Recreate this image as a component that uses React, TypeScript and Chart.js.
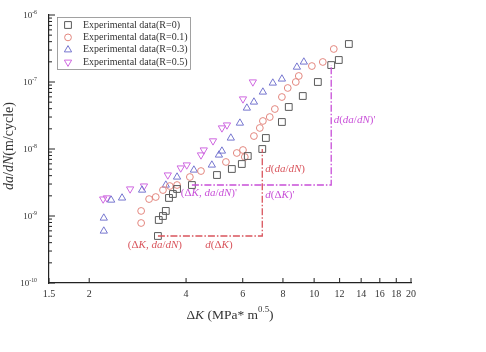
import React, { useEffect, useRef } from 'react';
import { Chart, registerables } from 'chart.js';
Chart.register(...registerables);

// ---- axis ticks ----
const X_TICKS = [1.5, 2, 4, 6, 8, 10, 12, 14, 16, 18, 20];
const X_TICK_LABELS = ['1.5', '2', '4', '6', '8', '10', '12', '14', '16', '18', '20'];
const Y_DECADES = [-10, -9, -8, -7, -6];

// ---- series: R = 0 (squares) ----
const r0X = [3.27, 3.29, 3.39, 3.46, 3.54, 3.64, 3.75, 4.17, 4.99, 5.55, 5.96, 6.22, 6.9, 7.08, 7.94, 8.34, 9.22, 10.27, 11.3, 11.93, 12.82];
const r0Y = [5.03e-10, 8.72e-10, 1.0e-9, 1.19e-9, 1.86e-9, 2.13e-9, 2.53e-9, 2.9e-9, 4.09e-9, 5.03e-9, 5.97e-9, 7.86e-9, 1.0e-8, 1.46e-8, 2.53e-8, 4.24e-8, 6.18e-8, 1.0e-7, 1.79e-7, 2.13e-7, 3.69e-7];

// ---- series: R = 0.1 (circles) ----
const r01X = [2.9, 2.9, 3.07, 3.22, 3.39, 3.56, 3.75, 4.11, 4.45, 5.32, 5.75, 6.01, 6.09, 6.5, 6.78, 6.93, 7.28, 7.55, 7.94, 8.28, 8.77, 8.96, 9.84, 10.64, 11.51];
const r01Y = [1.19e-9, 7.86e-10, 1.79e-9, 1.92e-9, 2.44e-9, 2.8e-9, 2.9e-9, 3.82e-9, 4.69e-9, 6.4e-9, 8.72e-9, 9.66e-9, 7.6e-9, 1.56e-8, 2.06e-8, 2.62e-8, 3.0e-8, 3.95e-8, 5.97e-8, 8.14e-8, 1.0e-7, 1.23e-7, 1.73e-7, 1.99e-7, 3.11e-7];

// ---- series: R = 0.3 (triangles) ----
const r03X = [2.22, 2.22, 2.34, 2.53, 2.92, 3.46, 3.75, 4.23, 4.81, 5.06, 5.17, 5.51, 5.88, 6.18, 6.5, 6.93, 7.44, 7.94, 8.84, 9.29];
const r03Y = [9.33e-10, 5.97e-10, 1.73e-9, 1.86e-9, 2.44e-9, 2.9e-9, 3.82e-9, 4.86e-9, 5.77e-9, 8.14e-9, 9.33e-9, 1.46e-8, 2.44e-8, 4.09e-8, 5.03e-8, 7.09e-8, 9.66e-8, 1.11e-7, 1.67e-7, 1.99e-7];

// ---- series: R = 0.5 (inverted triangles) ----
const r05X = [2.21, 2.27, 2.68, 2.96, 3.51, 3.85, 4.02, 4.45, 4.54, 4.85, 5.17, 5.36, 6.01, 6.45];
const r05Y = [1.79e-9, 1.86e-9, 2.53e-9, 2.8e-9, 4.09e-9, 5.2e-9, 5.77e-9, 8.14e-9, 9.66e-9, 1.32e-8, 2.06e-8, 2.28e-8, 5.58e-8, 1.0e-7];

const SERIES_LABELS = ['Experimental data(R=0)', 'Experimental data(R=0.1)', 'Experimental data(R=0.3)', 'Experimental data(R=0.5)'];

// ---- annotation paths ----
const redPathX = [3.27, 6.9, 6.9];
const redPathY = [5.03e-10, 5.03e-10, 1.0e-8];
const magPathX = [4.17, 11.3, 11.3];
const magPathY = [2.9e-9, 2.9e-9, 1.79e-7];

const RED = '#d9545c';
const MAG = '#c84fd8';
const C_SQ = '#5a5a5a';
const C_CI = '#e3877f';
const C_TR = '#7676cf';
const C_IT = '#cf68e0';

type Seg = [string, number, number?];
const annoTexts: { segs: Seg[]; x: number; y: number; align: string; color: string }[] = [
  { segs: [['(', 0], ['\u0394', 0], ['K', 1], [', ', 0], ['da', 1], ['/', 0], ['dN', 1], [')', 0]], x: 3.2, y: 3.69e-10, align: 'center', color: RED },
  { segs: [['d', 1], ['(', 0], ['\u0394', 0], ['K', 1], [')', 0]], x: 5.06, y: 3.69e-10, align: 'center', color: RED },
  { segs: [['d', 1], ['(', 0], ['da', 1], ['/', 0], ['dN', 1], [')', 0]], x: 7.05, y: 5.03e-9, align: 'left', color: RED },
  { segs: [['(', 0], ['\u0394', 0], ['K', 1], [', ', 0], ['da', 1], ['/', 0], ['dN', 1], [")'", 0]], x: 4.71, y: 2.2e-9, align: 'center', color: MAG },
  { segs: [['d', 1], ['(', 0], ['\u0394', 0], ['K', 1], [")'", 0]], x: 7.05, y: 2.06e-9, align: 'left', color: MAG },
  { segs: [['d', 1], ['(', 0], ['da', 1], ['/', 0], ['dN', 1], [")'", 0]], x: 11.5, y: 2.71e-8, align: 'left', color: MAG },
];

const FONT = "'Liberation Serif', 'Times New Roman', serif";

function drawRich(ctx: CanvasRenderingContext2D, segs: Seg[], x: number, y: number, align: string, size: number, color: string) {
  let w = 0;
  const parts = segs.map(([t, it, sup]) => {
    const s = sup ? size * 0.65 : size;
    const font = `${it ? 'italic ' : ''}${s}px ${FONT}`;
    ctx.font = font;
    const mw = ctx.measureText(t).width;
    w += mw;
    return { t, font, mw, sup };
  });
  let cx = align === 'center' ? x - w / 2 : align === 'right' ? x - w : x;
  ctx.fillStyle = color;
  ctx.textBaseline = 'middle';
  ctx.textAlign = 'left';
  parts.forEach((p) => {
    ctx.font = p.font;
    ctx.fillText(p.t, cx, p.sup ? y - size * 0.38 : y);
    cx += p.mw;
  });
}

function marker(ctx: CanvasRenderingContext2D, kind: string, x: number, y: number, color: string) {
  ctx.save();
  ctx.strokeStyle = color;
  ctx.lineWidth = 1;
  ctx.beginPath();
  if (kind === 'rect') {
    const s = 4.8 * Math.SQRT1_2;
    ctx.rect(x - s, y - s, 2 * s, 2 * s);
  } else if (kind === 'circle') {
    ctx.arc(x, y, 3.4, 0, Math.PI * 2);
  } else {
    const r = 4.2;
    let rad = kind === 'tri' ? 0 : Math.PI;
    ctx.moveTo(x + Math.sin(rad) * r, y - Math.cos(rad) * r);
    rad += (2 * Math.PI) / 3;
    ctx.lineTo(x + Math.sin(rad) * r, y - Math.cos(rad) * r);
    rad += (2 * Math.PI) / 3;
    ctx.lineTo(x + Math.sin(rad) * r, y - Math.cos(rad) * r);
    ctx.closePath();
  }
  ctx.stroke();
  ctx.restore();
}

const decor = {
  id: 'decor',
  afterDraw(chart: any) {
    const ctx: CanvasRenderingContext2D = chart.ctx;
    const xs = chart.scales.x;
    const ys = chart.scales.y;
    const { left, right, top, bottom } = chart.chartArea;
    ctx.save();
    ctx.strokeStyle = '#222';
    ctx.lineWidth = 1;
    // x ticks (inward) + labels
    X_TICKS.forEach((v, i) => {
      const px = xs.getPixelForValue(v);
      ctx.beginPath();
      ctx.moveTo(px, bottom);
      ctx.lineTo(px, bottom - 5);
      ctx.stroke();
      drawRich(ctx, [[X_TICK_LABELS[i], 0]], px, bottom + 11.5, 'center', 10, '#333');
    });
    // y ticks
    Y_DECADES.forEach((e, i) => {
      const py = ys.getPixelForValue(Math.pow(10, e));
      ctx.strokeStyle = '#222';
      ctx.beginPath();
      ctx.moveTo(left, py);
      ctx.lineTo(left + 6, py);
      ctx.stroke();
      drawRich(ctx, [['10', 0], [String(e), 0, 1]], left - 12, py + 1, 'right', 9, '#333');
      if (i < Y_DECADES.length - 1) {
        for (let m = 2; m <= 9; m++) {
          const pm = ys.getPixelForValue(m * Math.pow(10, e));
          ctx.beginPath();
          ctx.moveTo(left, pm);
          ctx.lineTo(left + 3, pm);
          ctx.stroke();
        }
      }
    });
    // axis titles
    drawRich(ctx, [['\u0394', 0], ['K', 1], [' (MPa* m', 0], ['0.5', 0, 1], [')', 0]], (left + right) / 2, bottom + 32, 'center', 13.5, '#333');
    ctx.save();
    ctx.translate(left - 40, (top + bottom) / 2 - 3);
    ctx.rotate(-Math.PI / 2);
    drawRich(ctx, [['da', 1], ['/', 0], ['dN', 1], ['(m/cycle)', 0]], 0, 0, 'center', 14, '#333');
    ctx.restore();
    // annotation texts
    annoTexts.forEach((a) => {
      drawRich(ctx, a.segs, xs.getPixelForValue(a.x), ys.getPixelForValue(a.y), a.align, 11, a.color);
    });
    // legend
    const lx = left + 8, ly = top + 2, lw = 133, lh = 52;
    ctx.fillStyle = '#fff';
    ctx.fillRect(lx, ly, lw, lh);
    ctx.strokeStyle = '#8a8a8a';
    ctx.lineWidth = 0.8;
    ctx.strokeRect(lx + 0.5, ly + 0.5, lw, lh);
    const kinds = ['rect', 'circle', 'tri', 'itri'];
    const cols = [C_SQ, C_CI, C_TR, C_IT];
    SERIES_LABELS.forEach((lab, i) => {
      const yy = ly + 8 + i * 12.4;
      marker(ctx, kinds[i], lx + 11, yy, cols[i]);
      drawRich(ctx, [[lab, 0]], lx + 26, yy, 'left', 10, '#333');
    });
    ctx.restore();
  },
};

const pts = (xs: number[], ys: number[]) => xs.map((x, i) => ({ x, y: ys[i] }));

export default function App() {
  const ref = useRef<HTMLCanvasElement>(null);
  useEffect(() => {
    const base = { showLine: false, borderWidth: 1, backgroundColor: 'rgba(0,0,0,0)' };
    const chart = new Chart(ref.current!, {
      type: 'scatter',
      data: {
        datasets: [
          { label: 'red path', data: pts(redPathX, redPathY), showLine: true, borderColor: RED, borderWidth: 1.3, borderDash: [7, 2, 1.5, 2], pointRadius: 0, fill: false },
          { label: 'magenta path', data: pts(magPathX, magPathY), showLine: true, borderColor: MAG, borderWidth: 1.3, borderDash: [7, 2, 1.5, 2], pointRadius: 0, fill: false },
          { ...base, label: SERIES_LABELS[0], data: pts(r0X, r0Y), pointStyle: 'rect', pointRadius: 4.8, borderColor: C_SQ, pointBorderColor: C_SQ },
          { ...base, label: SERIES_LABELS[1], data: pts(r01X, r01Y), pointStyle: 'circle', pointRadius: 3.4, borderColor: C_CI, pointBorderColor: C_CI },
          { ...base, label: SERIES_LABELS[2], data: pts(r03X, r03Y), pointStyle: 'triangle', pointRadius: 4.2, borderColor: C_TR, pointBorderColor: C_TR },
          { ...base, label: SERIES_LABELS[3], data: pts(r05X, r05Y), pointStyle: 'triangle', rotation: 180, pointRotation: 180, pointRadius: 4.2, borderColor: C_IT, pointBorderColor: C_IT },
        ] as any,
      },
      options: {
        responsive: false,
        animation: false,
        layout: { padding: { left: 49, right: 75, top: 15, bottom: 69 } },
        plugins: { legend: { display: false }, tooltip: { enabled: false } },
        scales: {
          x: {
            type: 'logarithmic', min: 1.5, max: 20,
            ticks: { display: false }, grid: { display: false, drawTicks: false },
            border: { color: '#222', width: 1.2 }, title: { display: false },
          },
          y: {
            type: 'logarithmic', min: 1e-10, max: 1e-6,
            ticks: { display: false }, grid: { display: false, drawTicks: false },
            border: { color: '#222', width: 1.2 }, title: { display: false },
          },
        },
      } as any,
      plugins: [decor],
    });
    return () => chart.destroy();
  }, []);
  return (
    <div style={{ position: 'absolute', left: 0, top: 0, width: 486, height: 352, background: '#fff' }}>
      <canvas ref={ref} width={486} height={352} style={{ display: 'block' }} />
    </div>
  );
}
